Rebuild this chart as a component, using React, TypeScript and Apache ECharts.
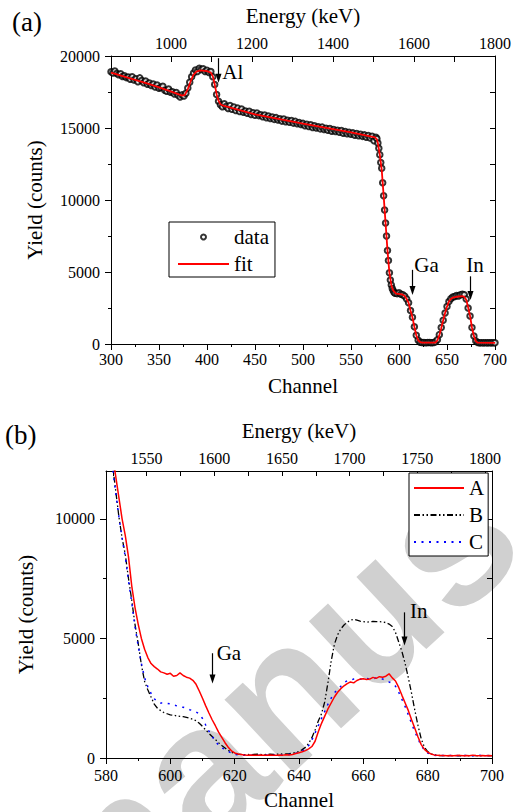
import React, { useEffect, useRef } from 'react';
import * as echarts from 'echarts';

const FONT = 'Liberation Serif';

// ---------- Panel (a) ----------
const aDataPoints: [number, number][] = [
  [300, 18900], [302, 18820], [304, 18950], [306, 18780], [308, 18700], [310, 18760], [312, 18580], [314, 18620],
  [316, 18500], [318, 18540], [320, 18380], [322, 18560], [324, 18330], [326, 18420], [328, 18220], [330, 18480],
  [332, 18300], [334, 18150], [336, 18260], [338, 18040], [340, 18120], [342, 17950], [344, 18060], [346, 17850],
  [348, 17980], [350, 17760], [352, 17820], [354, 17900], [356, 17620], [358, 17560], [360, 17700], [362, 17480],
  [364, 17520], [366, 17360], [368, 17460], [370, 17280], [372, 17150], [374, 17300], [376, 17220], [378, 17420],
  [380, 17780], [382, 18180], [384, 18560], [386, 18820], [388, 19020], [390, 18920], [392, 19150], [394, 19060],
  [396, 19120], [398, 18920], [400, 19010], [402, 18860], [404, 18920], [406, 18560], [408, 18020], [410, 17320],
  [412, 16860], [414, 16620], [416, 16480], [418, 16680], [420, 16500], [422, 16360], [424, 16560], [426, 16300],
  [428, 16460], [430, 16220], [432, 16380], [434, 16150], [436, 16320], [438, 16100], [440, 16180], [442, 16020],
  [444, 16160], [446, 15940], [448, 16060], [450, 15880], [452, 16040], [454, 15860], [456, 15920], [458, 15780],
  [460, 15900], [462, 15720], [464, 15830], [466, 15660], [468, 15760], [470, 15600], [472, 15720], [474, 15560],
  [476, 15640], [478, 15480], [480, 15620], [482, 15440], [484, 15540], [486, 15400], [488, 15520], [490, 15340],
  [492, 15460], [494, 15300], [496, 15380], [498, 15240], [500, 15320], [502, 15160], [504, 15260], [506, 15100],
  [508, 15220], [510, 15040], [512, 15160], [514, 15000], [516, 15080], [518, 14940], [520, 15060], [522, 14900],
  [524, 14980], [526, 14840], [528, 14960], [530, 14780], [532, 14900], [534, 14760], [536, 14840], [538, 14700],
  [540, 14820], [542, 14640], [544, 14760], [546, 14600], [548, 14700], [550, 14560], [552, 14660], [554, 14500],
  [556, 14620], [558, 14460], [560, 14560], [562, 14420], [564, 14520], [566, 14360], [568, 14480], [570, 14300],
  [572, 14420], [574, 14120], [576, 14360], [577, 14250], [578, 13950], [579, 13600], [580, 13150], [581, 12600],
  [582, 12200], [583, 11200], [584, 10300], [585, 9300], [586, 8400], [587, 7500], [588, 6500], [589, 5800],
  [590, 4950], [591, 4450], [592, 4100], [593, 3850], [594, 3700], [595, 3580], [596, 3520], [598, 3500],
  [600, 3560], [602, 3460], [604, 3420], [606, 3320], [608, 3120], [610, 2860], [612, 2320], [614, 1860],
  [616, 1200], [618, 600], [620, 260], [622, 130], [624, 100], [626, 110], [628, 90], [630, 100],
  [632, 110], [634, 90], [636, 110], [638, 150], [640, 300], [642, 650], [644, 1150], [646, 1650],
  [648, 2150], [650, 2600], [652, 2950], [654, 3150], [656, 3260], [658, 3300], [660, 3360], [662, 3340],
  [664, 3420], [666, 3460], [668, 3420], [670, 3120], [672, 2500], [674, 1950], [676, 1150], [678, 550],
  [680, 200], [682, 100], [684, 80], [686, 90], [688, 80], [690, 90], [692, 80], [694, 90],
  [696, 80], [698, 90], [700, 80],
];

const aFitPoints: [number, number][] = [
  [300, 18850], [320, 18450], [340, 18050], [360, 17600], [374, 17250], [377, 17300], [380, 17700], [383, 18250],
  [386, 18700], [389, 18920], [393, 19000], [400, 18950], [404, 18850], [406, 18600], [408, 18050], [410, 17350],
  [412, 16900], [414, 16650], [417, 16550], [450, 15950], [500, 15300], [550, 14700], [575, 14350], [577, 14200],
  [578, 13950], [580, 13150], [582, 12100], [584, 10300], [586, 8400], [588, 6500], [590, 4950], [592, 4100],
  [594, 3700], [597, 3500], [603, 3450], [606, 3330], [608, 3120], [610, 2850], [612, 2330], [614, 1850],
  [616, 1200], [618, 600], [620, 260], [622, 130], [624, 100], [638, 100], [640, 250], [642, 600],
  [644, 1100], [646, 1650], [648, 2150], [650, 2600], [652, 2950], [654, 3130], [656, 3220], [660, 3280],
  [666, 3320], [668, 3280], [670, 3080], [672, 2550], [674, 1950], [676, 1150], [678, 550], [680, 200],
  [682, 90], [700, 80],
];

const aEnergyRange = [852, 1800];
const aEnergyLabels = [1000, 1200, 1400, 1600, 1800];
const aEnergyTicks = [900, 1000, 1100, 1200, 1300, 1400, 1500, 1600, 1700, 1800];

// ---------- Panel (b) ----------
const bStartChannel = 580; // one value per channel, 580 ... 700
const bYieldA = [
  14500, 13600, 12700, 11800, 10900, 10000, 9300, 8400, 7200, 6300,
  5600, 5000, 4550, 4200, 3950, 3820, 3720, 3600, 3560, 3500,
  3540, 3420, 3450, 3560, 3450, 3380, 3340, 3250, 3080, 2800,
  2500, 2180, 1880, 1600, 1350, 1080, 860, 640, 450, 300,
  210, 170, 150, 130, 120, 130, 120, 110, 130, 120,
  120, 130, 120, 110, 130, 120, 140, 130, 150, 190,
  220, 260, 310, 380, 480, 700, 1100, 1450, 1750, 2050,
  2300, 2550, 2750, 2900, 3020, 3110, 3180, 3140, 3240, 3300,
  3310, 3280, 3300, 3370, 3330, 3400, 3380, 3420, 3520, 3350,
  3220, 2950, 2620, 2300, 1980, 1600, 1240, 880, 560, 360,
  240, 170, 130, 110, 100, 100, 90, 100, 90, 100,
  110, 90, 100, 90, 120, 100, 90, 100, 90, 100,
  90,
];
const bYieldB = [
  14500, 13300, 12300, 11200, 10100, 9200, 8500, 7500, 6600, 5600,
  4800, 3900, 3200, 2850, 2550, 2250, 2080, 1980, 1900, 1850,
  1800, 1790, 1760, 1740, 1730, 1700, 1660, 1620, 1560, 1450,
  1320, 1170, 1030, 900, 770, 640, 520, 420, 320, 240,
  190, 160, 150, 140, 150, 140, 150, 160, 150, 140,
  150, 160, 150, 160, 170, 160, 170, 180, 200, 230,
  270, 350, 450, 610, 850, 1170, 1550, 1850, 2350, 3150,
  4050, 4750, 5150, 5400, 5560, 5680, 5760, 5800, 5760, 5720,
  5700, 5680, 5700, 5710, 5700, 5700, 5690, 5660, 5600, 5500,
  5250, 4850, 4450, 3950, 3350, 2700, 2000, 1350, 800, 450,
  270, 180, 130, 110, 100, 100, 100, 90, 100, 100,
  90, 100, 100, 90, 100, 100, 90, 100, 100, 90,
  100,
];
const bYieldC = [
  14500, 13300, 12200, 11100, 10100, 9200, 8400, 7400, 6500, 5500,
  4700, 3950, 3350, 2980, 2700, 2480, 2350, 2300, 2290, 2280,
  2260, 2220, 2180, 2140, 2120, 2080, 2020, 1980, 1920, 1850,
  1650, 1380, 1120, 900, 700, 540, 420, 360, 280, 200,
  150, 130, 120, 120, 110, 120, 110, 120, 110, 120,
  130, 120, 110, 120, 130, 120, 130, 150, 170, 200,
  230, 290, 380, 520, 750, 1050, 1350, 1650, 1950, 2250,
  2500, 2720, 2880, 3000, 3150, 3230, 3250, 3300, 3320, 3290,
  3300, 3330, 3300, 3310, 3350, 3330, 3300, 3250, 3180, 3120,
  3000, 2750, 2450, 2150, 1800, 1450, 1100, 800, 520, 330,
  210, 150, 120, 100, 110, 100, 90, 100, 110, 100,
  90, 100, 110, 100, 90, 100, 110, 100, 90, 100,
  100,
];
const bEnergyRange = [1520, 1805.2];
const bEnergyLabels = [1550, 1600, 1650, 1700, 1750, 1800];
const bEnergyTicks = [1525, 1550, 1575, 1600, 1625, 1650, 1675, 1700, 1725, 1750, 1775, 1800];

// Element annotations: arrow channel, arrow start / end yield, label anchor
const annotations = [
  { grid: 0, label: 'Al', channel: 411, from: 19850, to: 18150, textChannel: 416, textYield: 18900 },
  { grid: 0, label: 'Ga', channel: 614, from: 5150, to: 3400, textChannel: 616, textYield: 5500 },
  { grid: 0, label: 'In', channel: 674, from: 4700, to: 3050, textChannel: 670, textYield: 5500 },
  { grid: 1, label: 'Ga', channel: 612.9, from: 4380, to: 3110, textChannel: 614.4, textYield: 4380 },
  { grid: 1, label: 'In', channel: 672.6, from: 6090, to: 4700, textChannel: 674.5, textYield: 6140 },
];

const black = { color: '#000', width: 1 };
const plain = (v: number) => String(v);
const labelStyle = { color: '#000', fontFamily: FONT, fontSize: 16, formatter: plain };
const nameStyle = { color: '#000', fontFamily: FONT, fontSize: 21 };
const legendText = { color: '#000', fontFamily: FONT, fontSize: 21, lineHeight: 22 };

function toPairs(values: number[]) {
  return values.map((v, i) => [bStartChannel + i, v]);
}

export default function App() {
  const ref = useRef<HTMLDivElement>(null);
  useEffect(() => {
    const chart = echarts.init(ref.current!, null, { renderer: 'svg' });
    const option: any = {
      animation: false,
      backgroundColor: '#fff',
      textStyle: { fontFamily: FONT },
      grid: [
        { left: 111, top: 56, width: 386, height: 288 },
        { left: 106, top: 471, width: 386, height: 287 },
      ],
      xAxis: [
        {
          gridIndex: 0, type: 'value', position: 'bottom', min: 300, max: 700, interval: 50,
          axisLine: { show: true, onZero: false, lineStyle: black },
          axisTick: { show: true, inside: false, length: 6, lineStyle: black },
          minorTick: { show: true, splitNumber: 2, length: 3, lineStyle: black },
          splitLine: { show: false },
          axisLabel: { ...labelStyle, margin: 7 },
          name: 'Channel', nameLocation: 'middle', nameGap: 31, nameTextStyle: nameStyle,
        },
        {
          gridIndex: 0, type: 'value', position: 'top', min: aEnergyRange[0], max: aEnergyRange[1],
          axisLine: { show: true, onZero: false, lineStyle: black },
          axisTick: { show: true, inside: true, length: 6, lineStyle: black, customValues: aEnergyTicks },
          splitLine: { show: false },
          axisLabel: { ...labelStyle, margin: 5, customValues: aEnergyLabels },
          name: 'Energy (keV)', nameLocation: 'middle', nameGap: 30, nameTextStyle: nameStyle,
        },
        {
          gridIndex: 1, type: 'value', position: 'bottom', min: 580, max: 700, interval: 20,
          axisLine: { show: true, onZero: false, lineStyle: black },
          axisTick: { show: true, inside: false, length: 6, lineStyle: black },
          minorTick: { show: true, splitNumber: 2, length: 3, lineStyle: black },
          splitLine: { show: false },
          axisLabel: { ...labelStyle, margin: 9 },
          name: 'Channel', nameLocation: 'middle', nameGap: 31, nameTextStyle: nameStyle,
        },
        {
          gridIndex: 1, type: 'value', position: 'top', min: bEnergyRange[0], max: bEnergyRange[1],
          axisLine: { show: true, onZero: false, lineStyle: black },
          axisTick: { show: true, inside: true, length: 5, lineStyle: black, customValues: bEnergyTicks },
          splitLine: { show: false },
          axisLabel: { ...labelStyle, margin: 5, customValues: bEnergyLabels },
          name: 'Energy (keV)', nameLocation: 'middle', nameGap: 30, nameTextStyle: nameStyle,
        },
      ],
      yAxis: [
        {
          gridIndex: 0, type: 'value', position: 'left', min: 0, max: 20000, interval: 5000,
          axisLine: { show: true, onZero: false, lineStyle: black },
          axisTick: { show: true, inside: false, length: 6, lineStyle: black },
          minorTick: { show: true, splitNumber: 2, length: 3, lineStyle: black },
          splitLine: { show: false },
          axisLabel: { ...labelStyle, margin: 11 },
          name: 'Yield (counts)', nameLocation: 'middle', nameGap: 66, nameRotate: 90, nameTextStyle: nameStyle,
        },
        {
          gridIndex: 0, type: 'value', position: 'right', min: 0, max: 20000, interval: 2500,
          axisLine: { show: true, onZero: false, lineStyle: black },
          axisTick: { show: true, inside: true, length: 5, lineStyle: black },
          splitLine: { show: false },
          axisLabel: { show: false },
        },
        {
          gridIndex: 1, type: 'value', position: 'left', min: 0, max: 12000,
          axisLine: { show: true, onZero: false, lineStyle: black },
          axisTick: { show: true, inside: false, length: 6, lineStyle: black, customValues: [0, 5000, 10000] },
          splitLine: { show: false },
          axisLabel: { ...labelStyle, margin: 11, customValues: [0, 5000, 10000] },
          name: 'Yield (counts)', nameLocation: 'middle', nameGap: 70, nameRotate: 90, nameTextStyle: nameStyle,
        },
        {
          gridIndex: 1, type: 'value', position: 'left', min: 0, max: 12000,
          axisLine: { show: false },
          axisTick: { show: true, inside: false, length: 3, lineStyle: black, customValues: [2500, 7500] },
          splitLine: { show: false },
          axisLabel: { show: false },
        },
        {
          gridIndex: 1, type: 'value', position: 'right', min: 0, max: 12000,
          axisLine: { show: true, onZero: false, lineStyle: black },
          axisTick: { show: true, inside: true, length: 5, lineStyle: black, customValues: [0, 2500, 5000, 7500, 10000] },
          splitLine: { show: false },
          axisLabel: { show: false },
        },
      ],
      legend: [
        {
          data: ['data', { name: 'fit', itemStyle: { opacity: 0 } }], orient: 'vertical', left: 169, top: 222,
          itemWidth: 51, itemHeight: 5, itemGap: 5, padding: [4, 6, 2, 8],
          borderColor: '#000', borderWidth: 1, borderRadius: 0, backgroundColor: '#fff',
          textStyle: legendText,
        },
        {
          data: ['A', 'B', 'C'], orient: 'vertical', left: 409, top: 473,
          itemWidth: 50, itemHeight: 14, itemGap: 5, padding: [4, 4, 3, 4],
          itemStyle: { opacity: 0 },
          borderColor: '#000', borderWidth: 1, borderRadius: 0, backgroundColor: '#fff',
          textStyle: legendText,
        },
      ],
      series: [
        {
          name: 'data', type: 'scatter', xAxisIndex: 0, yAxisIndex: 0, data: aDataPoints,
          symbol: 'emptyCircle', symbolSize: 5.5,
          itemStyle: { color: '#000', borderColor: '#000', borderWidth: 0.8 },
          z: 2,
        },
        {
          name: 'fit', type: 'line', xAxisIndex: 0, yAxisIndex: 0, data: aFitPoints,
          symbol: 'none', lineStyle: { color: '#ff0000', width: 1.8 }, itemStyle: { color: '#ff0000' },
          z: 3,
        },
        {
          name: 'A', type: 'line', xAxisIndex: 2, yAxisIndex: 2, data: toPairs(bYieldA),
          symbol: 'none', lineStyle: { color: '#ff0000', width: 1.5 }, itemStyle: { color: '#ff0000' },
          z: 4,
        },
        {
          name: 'B', type: 'line', xAxisIndex: 2, yAxisIndex: 2, data: toPairs(bYieldB),
          symbol: 'none', lineStyle: { color: '#000', width: 1.3, type: [6, 2.5, 1.5, 2.5, 1.5, 2.5] },
          itemStyle: { color: '#000' }, z: 3,
        },
        {
          name: 'C', type: 'line', xAxisIndex: 2, yAxisIndex: 2, data: toPairs(bYieldC),
          symbol: 'none', lineStyle: { color: '#0000ff', width: 1.5, type: [2, 5.5] },
          itemStyle: { color: '#0000ff' }, z: 3,
        },
      ],
    };
    chart.setOption(option);

    const graphics: any[] = [
      {
        type: 'text', x: 262, y: 712, rotation: 0.75, z: -10, silent: true,
        style: {
          text: 'manus', fill: '#d0d0d0', fontSize: 190, fontWeight: 'bold',
          fontFamily: 'Liberation Sans', align: 'center', verticalAlign: 'middle',
          textAlign: 'center', textVerticalAlign: 'middle',
        },
      },
      {
        type: 'text', x: 12, y: 22,
        style: { text: '(a)', fill: '#000', fontSize: 27, fontFamily: FONT, textVerticalAlign: 'middle', verticalAlign: 'middle' },
      },
      {
        type: 'text', x: 5, y: 435,
        style: { text: '(b)', fill: '#000', fontSize: 27, fontFamily: FONT, textVerticalAlign: 'middle', verticalAlign: 'middle' },
      },
    ];
    annotations.forEach((a) => {
      const finder = a.grid === 0 ? { xAxisIndex: 0, yAxisIndex: 0 } : { xAxisIndex: 2, yAxisIndex: 2 };
      const p0 = chart.convertToPixel(finder as any, [a.channel, a.from]) as number[];
      const p1 = chart.convertToPixel(finder as any, [a.channel, a.to]) as number[];
      const pt = chart.convertToPixel(finder as any, [a.textChannel, a.textYield]) as number[];
      const x = Math.round(p0[0]) + 0.5;
      graphics.push({
        type: 'line', z: 10,
        shape: { x1: x, y1: p0[1], x2: x, y2: p1[1] - 6 },
        style: { stroke: '#000', lineWidth: 1.2 },
      });
      graphics.push({
        type: 'polygon', z: 10,
        shape: { points: [[x - 3, p1[1] - 9], [x + 3, p1[1] - 9], [x, p1[1]]] },
        style: { fill: '#000' },
      });
      graphics.push({
        type: 'text', z: 10, x: pt[0], y: pt[1],
        style: {
          text: a.label, fill: '#000', fontSize: 21, fontFamily: FONT,
          textVerticalAlign: 'middle', verticalAlign: 'middle',
        },
      });
    });
    chart.setOption({ graphic: graphics });
    return () => chart.dispose();
  }, []);
  return <div ref={ref} style={{ position: 'fixed', left: 0, top: 0, width: 514, height: 812 }} />;
}
